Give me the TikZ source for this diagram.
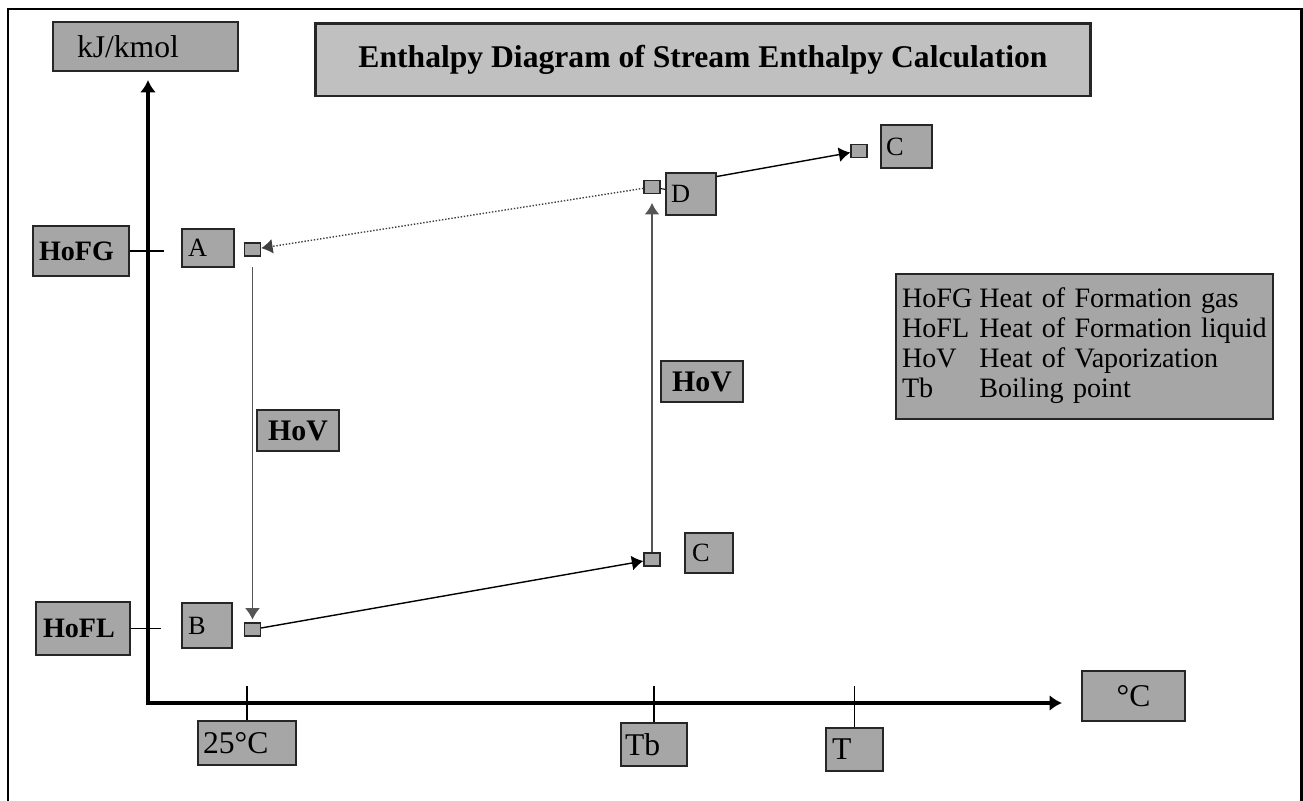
\documentclass[tikz,border=0pt]{standalone}
\usepackage{fontspec}
\setmainfont{Liberation Serif}
\usetikzlibrary{arrows.meta}
\definecolor{boxgray}{HTML}{A6A6A6}
\definecolor{titlegray}{HTML}{C0C0C0}
\definecolor{linegray}{HTML}{555555}

\begin{document}
\begin{tikzpicture}[x=0.02cm,y=-0.02cm,
  lblbox/.style={draw=black!85, line width=1.1pt, fill=boxgray, inner sep=0pt, font=\fontsize{18}{20}\selectfont},
  leftbox/.style={lblbox, align=left},
  sqr/.style={draw=black!85, line width=0.8pt, fill=boxgray, minimum width=0.32cm, minimum height=0.26cm, inner sep=0pt},
  axisline/.style={line width=2.8pt, {Latex[length=7pt,width=9pt]}-{Latex[length=7pt,width=9pt]}},
  flow/.style={line width=0.8pt, -{Latex[length=6.5pt,width=8.5pt]}},
  vflow/.style={line width=1pt, draw=linegray, -{Latex[length=6.5pt,width=8.5pt]}},
  gasflow/.style={line width=0.8pt, densely dotted, draw=black!75, -{Latex[length=6.5pt,width=8.5pt]}},
  tickline/.style={line width=1pt}]
\useasboundingbox (0,0) rectangle (1303,801);
\draw[line width=1.7pt] (8,801) -- (8,9) -- (1301,9) -- (1301,801); %outer frame

\coordinate (ytip) at (148,80);
\coordinate (origin) at (148,703);
\coordinate (xtip) at (1062,703);
\draw[axisline] (ytip) -- (origin) -- (xtip); %the two axes

\node[leftbox, text width=2.74cm, inner xsep=0.48cm, minimum height=0.98cm] (ylbl) at (145.5,46.5) {kJ/kmol};
\node[lblbox, fill=titlegray, line width=1.7pt, minimum width=15.52cm, minimum height=1.46cm, font=\bfseries\fontsize{18}{20}\selectfont] (title) at (703,59.5) {Enthalpy Diagram of Stream Enthalpy Calculation};
\node[lblbox, minimum width=2.06cm, minimum height=1.0cm] (xlbl) at (1133.5,696) {°C};

\node[leftbox, text width=1.68cm, inner xsep=0.12cm, minimum height=1.0cm, font=\bfseries\fontsize{16}{18}\selectfont] (hofg) at (81,251) {HoFG};
\node[leftbox, text width=1.6cm, inner xsep=0.14cm, minimum height=1.06cm, font=\bfseries\fontsize{16}{18}\selectfont] (hofl) at (83,628.5) {HoFL};
\draw[tickline] (hofg.east) -- ++(34,0);
\draw[tickline] (hofl.east) -- ++(30,0);

\node[leftbox, text width=1.76cm, inner xsep=0.1cm, minimum height=0.88cm] (twentyfive) at (247,743) {25°C};
\node[leftbox, text width=1.16cm, inner xsep=0.08cm, minimum height=0.86cm] (tb) at (654,744.5) {Tb};
\node[leftbox, text width=0.9cm, inner xsep=0.12cm, minimum height=0.86cm] (temp) at (854.5,749.5) {T};
\foreach \lbl in {twentyfive,tb,temp} % ticks on the temperature axis
\draw[tickline] (\lbl.north) -- (\lbl.north |- 0,686);

\node[leftbox, text width=0.8cm, inner xsep=0.12cm, minimum height=0.76cm, font=\fontsize{15}{17}\selectfont] (albl) at (208,248) {A};
\node[leftbox, text width=0.76cm, inner xsep=0.12cm, minimum height=0.9cm, font=\fontsize{15}{17}\selectfont] (blbl) at (207,625.5) {B};
\node[leftbox, text width=0.68cm, inner xsep=0.14cm, minimum height=0.8cm, font=\fontsize{15}{17}\selectfont] (clbl) at (709,553) {C};
\node[leftbox, text width=0.8cm, inner xsep=0.1cm, minimum height=0.84cm, font=\fontsize{15}{17}\selectfont] (dlbl) at (691,194) {D};
\node[leftbox, text width=0.82cm, inner xsep=0.1cm, minimum height=0.86cm, font=\fontsize{15}{17}\selectfont] (elbl) at (906.5,146.5) {C};

\node[sqr] (ptA) at (252.5,249.5) {};
\node[sqr] (ptB) at (252.5,629.5) {};
\node[sqr] (ptC) at (652,559.5) {};
\node[sqr] (ptD) at (652,187) {};
\node[sqr] (ptE) at (859,151) {};

\draw[vflow, shorten <=6pt, shorten >=1.5pt] (ptA) -- (ptB);
\draw[flow] (ptB) -- (ptC);
\draw[vflow, shorten >=5pt] (ptC) -- (ptD);
\draw[gasflow] (ptD) -- (ptA);
\draw[line width=0.6pt] (ptD) -- (dlbl);
\draw[flow] (dlbl.34) -- (ptE);

\node[lblbox, minimum width=1.64cm, minimum height=0.82cm, font=\bfseries\fontsize{17}{19}\selectfont] (hovl) at (298,430.5) {HoV};
\node[lblbox, minimum width=1.64cm, minimum height=0.82cm, font=\bfseries\fontsize{17}{19}\selectfont] (hovr) at (702,381.5) {HoV};

\node[leftbox, text width=7.3cm, inner xsep=0.12cm, minimum height=2.9cm, font=\fontsize{16}{17}\selectfont] (legend) at (1084.5,346.5)
{\begin{tabular}{@{}l@{\hspace{4pt}}l@{}}
HoFG & Heat of Formation gas\\
HoFL & Heat of Formation liquid\\
HoV & Heat of Vaporization\\
Tb & Boiling point
\end{tabular}};
\end{tikzpicture}
\end{document}
